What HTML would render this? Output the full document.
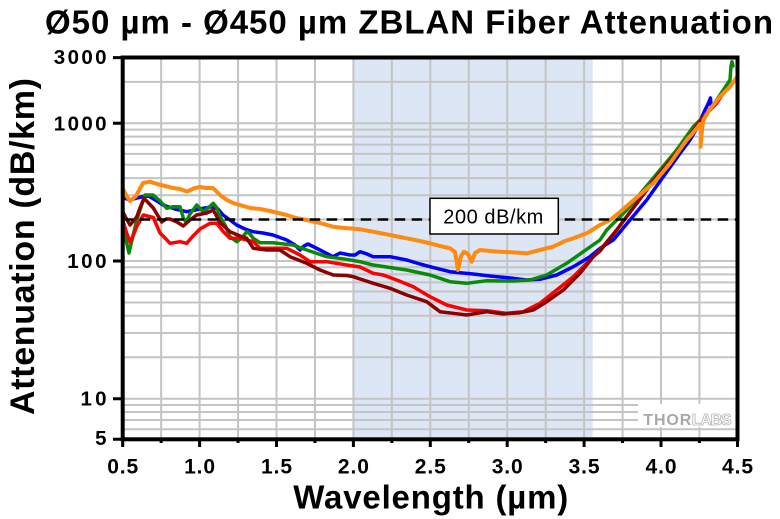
<!DOCTYPE html>
<html><head><meta charset="utf-8"><style>html,body{margin:0;padding:0;background:#fff;}svg{display:block;}</style></head>
<body>
<svg width="780" height="519" viewBox="0 0 780 519" xmlns="http://www.w3.org/2000/svg" font-family="'Liberation Sans', Arial, sans-serif">
<defs><clipPath id="pa"><rect x="122.7" y="57.5" width="614.8" height="381.8"/></clipPath></defs>
<rect width="780" height="519" fill="#fff"/>
<rect x="353.4" y="57.5" width="239.3" height="381.8" fill="#dce6f5"/>
<g stroke="#c4c4c4" stroke-width="2" fill="none">
<path d="M161.15 57.5V439.3M199.6 57.5V439.3M238.05 57.5V439.3M276.5 57.5V439.3M314.95 57.5V439.3M353.4 57.5V439.3M391.85 57.5V439.3M430.3 57.5V439.3M468.75 57.5V439.3M507.2 57.5V439.3M545.65 57.5V439.3M584.1 57.5V439.3M622.55 57.5V439.3M661 57.5V439.3M699.45 57.5V439.3"/>
<path d="M122.7 81.85H737.5M122.7 123.3H737.5M122.7 129.6H737.5M122.7 136.64H737.5M122.7 144.63H737.5M122.7 153.85H737.5M122.7 164.75H737.5M122.7 178.1H737.5M122.7 195.3H737.5M122.7 219.55H737.5M122.7 261H737.5M122.7 267.3H737.5M122.7 274.34H737.5M122.7 282.33H737.5M122.7 291.55H737.5M122.7 302.45H737.5M122.7 315.8H737.5M122.7 333H737.5M122.7 357.25H737.5M122.7 398.7H737.5M122.7 405H737.5M122.7 412.04H737.5M122.7 420.03H737.5M122.7 429.25H737.5"/>
</g>
<g clip-path="url(#pa)" fill="none" stroke-linejoin="round" stroke-linecap="round">
<polyline stroke="#0000ff" stroke-width="3.5" points="124,198 130,200 137,198 145,196 150,196.7 157,201 163,205 175,209 186.7,211.7 195,210 203,208.3 213,206.7 218,209 223,215 230,220 236.7,225 245,229 253,231.7 263,233 273,235 286.7,240 295,245 300,250 304,246 308,244 314,247 320,250 333,256.7 340,253 350,255 355,255 360,251.7 367,254 373,256.7 390,256.7 406.7,260 420,264 430,266.7 450,271.7 460,272.7 473,274 490,276 513,278.3 526.7,280 540,279.3 556.7,275 573.3,266.7 590,256.7 600,248.3 613.3,240 630,220 646.7,200 663.3,176.7 680,153.3 690,140 697,128 705,110 708,104 710.5,98 711,105"/>
<polyline stroke="#0a8a0a" stroke-width="3.5" points="122.7,230 126,240 129,253 132,240 136.7,220 140,210 145,195 153,195 160,201 166.7,208.3 173,206.7 180,206.7 183.3,218 186,222 190,214 196.7,205 203.3,211.7 208,208 213.3,203.3 217,208 220,216.7 225,225 230,236.7 236.7,241.7 242,238 246.7,231.7 250,234 253.3,238.3 260,242.7 273,242.7 293,245 306.7,250 326.7,256.7 346.7,259.3 360,261.7 373,265 390,267.5 406.7,270 430,275 450,281.7 466.7,283.3 486.7,280.7 513.3,281 530,280 546.7,275 566.7,263.3 583.3,251.7 600,240 606.7,230 626.7,210 643.3,190 660,170 676.7,150 693.3,126.7 710,110 723.3,90 728,83 730,80 731,66 732,61.7 733,66"/>
<polyline stroke="#ff0000" stroke-width="3.5" points="122.7,220 126.7,233.3 130,242 133,236 136.7,226.7 143.3,215 153.3,217.5 160,233 165,238 170,243.3 180,241.7 186.7,243.3 193,236 200,229 210,223.3 216.7,223.3 223.3,231.7 230,238.3 240,238.3 253.3,241.7 260,248.3 286.7,248.3 300,255 310,261.7 326.7,261.7 346.7,265 360,267 373.3,273.3 383.3,275 396.7,280 413.3,286.7 430,296.7 446.7,305 466.7,310 486.7,310.7 506.7,313.3 523.3,311.7 540,303.3 556.7,290 573.3,276.7 590,260 600,250 616.7,230 636.7,203.3 656.7,176.7 673.3,156.7 686.7,140 700,121 706.7,113.3 716.7,103.3 724,92"/>
<polyline stroke="#8b0000" stroke-width="3.5" points="122.7,211.7 126,218 130,225 136.7,217 140,208 144,198.3 153.3,208 161.7,222 166,219 170,219 177,222 183.3,226 190,220 196.7,215 206.7,213 213.3,210 220,222.5 230,231.7 240,236 246.7,238.3 253.3,248.3 266.7,250 280,250 290,256.7 306.7,263.3 320,270 333.3,275 346.7,275.5 353.3,276.7 360,279 373.3,283.3 390,288.3 406.7,295 426.7,301.7 440,311.7 453.3,313.3 466.7,315 486.7,311.7 503.3,314 520,312.7 533.3,310 546.7,301.7 563.3,290 580,273.3 593.3,256.7 600,251 616.7,230 636.7,203.3 656.7,176.7 673.3,156.7 686.7,140 700,121.7 703.3,116.7"/>
<polyline stroke="#ff8a0f" stroke-width="4" points="122.7,188.3 126,195 130,201 136,196 143,183 150,181.7 157,184 165,186 173,188 180,189 187,191.5 195,188 200,187 206,188 213,188 220,195 227,200 233,203 240,205 250,208 260,209 270,211 286.7,215 296,218 306.7,220 320,223 333,226.7 345,228 360,229.3 373,231.7 390,235 406.7,238.3 420,241 430,243.3 440,246 450,248.3 455,252 458,270 461,256 464,251.7 468,254 471.7,261.7 475,253 480,250 490,251 500,251.7 515,252.5 526.7,253.3 540,250 553,246.7 565,241 573.3,238.3 586.7,233.3 600,225 610,220 620,212 630,203.3 642,193 653.3,183.3 662,173 670,163.3 678,152 686.7,140 692,134 697,128 700,124 701,135 700.5,146.7 702,130 703.3,120 710,109 720,96.7 730,86.7 738,76"/>
</g>
<line x1="122.7" y1="219.5" x2="737.5" y2="219.5" stroke="#000" stroke-width="2.5" stroke-dasharray="10.5 6.5"/>
<rect x="430" y="198.3" width="128.3" height="35.7" fill="#fff" stroke="#000" stroke-width="1.5"/>
<text x="443.3" y="223.3" font-size="20" textLength="100" fill="#000">200 dB/km</text>
<rect x="638" y="404" width="98" height="23" fill="#fff"/>
<text x="643.3" y="425" font-size="16" font-weight="bold" fill="#a8a8a8" textLength="48">THOR</text>
<text x="691.7" y="425" font-size="16" font-weight="bold" fill="#fff" stroke="#b4b4b4" stroke-width="0.8" textLength="40">LABS</text>
<rect x="122.7" y="57.5" width="614.8" height="381.8" fill="none" stroke="#000" stroke-width="4"/>
<g stroke="#000" stroke-width="3">
<path d="M113 57.6H122.7M113 123.3H122.7M113 261H122.7M113 398.7H122.7M113 439.3H122.7"/>
<path d="M122.7 439.3V447M199.6 439.3V447M276.5 439.3V447M353.4 439.3V447M430.3 439.3V447M507.2 439.3V447M584.1 439.3V447M661 439.3V447M737.5 439.3V447"/>
<path d="M161.15 439.3V443M238.05 439.3V443M314.95 439.3V443M391.85 439.3V443M468.75 439.3V443M545.65 439.3V443M622.55 439.3V443M699.45 439.3V443"/>
</g>
<g font-size="20.5" font-weight="bold" fill="#000" text-anchor="end">
<text x="106.5" y="64.2" textLength="52.7">3000</text>
<text x="106.5" y="130.5" textLength="52.7">1000</text>
<text x="106.5" y="268.2" textLength="39.3">100</text>
<text x="106.5" y="405.5" textLength="26">10</text>
<text x="106.5" y="445" textLength="11.5">5</text>
</g>
<g font-size="21" font-weight="bold" fill="#000" text-anchor="middle">
<text x="122.7" y="473.3" textLength="31">0.5</text>
<text x="199.6" y="473.3" textLength="31">1.0</text>
<text x="276.5" y="473.3" textLength="31">1.5</text>
<text x="353.4" y="473.3" textLength="31">2.0</text>
<text x="430.3" y="473.3" textLength="31">2.5</text>
<text x="507.2" y="473.3" textLength="31">3.0</text>
<text x="584.1" y="473.3" textLength="31">3.5</text>
<text x="661" y="473.3" textLength="31">4.0</text>
<text x="737.5" y="473.3" textLength="31">4.5</text>
</g>
<text x="45" y="33.5" font-size="33" font-weight="bold" fill="#000" textLength="728">Ø50 µm - Ø450 µm ZBLAN Fiber Attenuation</text>
<text x="293.3" y="508.3" font-size="33" font-weight="bold" fill="#000" textLength="275">Wavelength (µm)</text>
<text x="34" y="415" font-size="34" font-weight="bold" fill="#000" textLength="337" transform="rotate(-90 34 415)">Attenuation (dB/km)</text>
</svg>
</body></html>
